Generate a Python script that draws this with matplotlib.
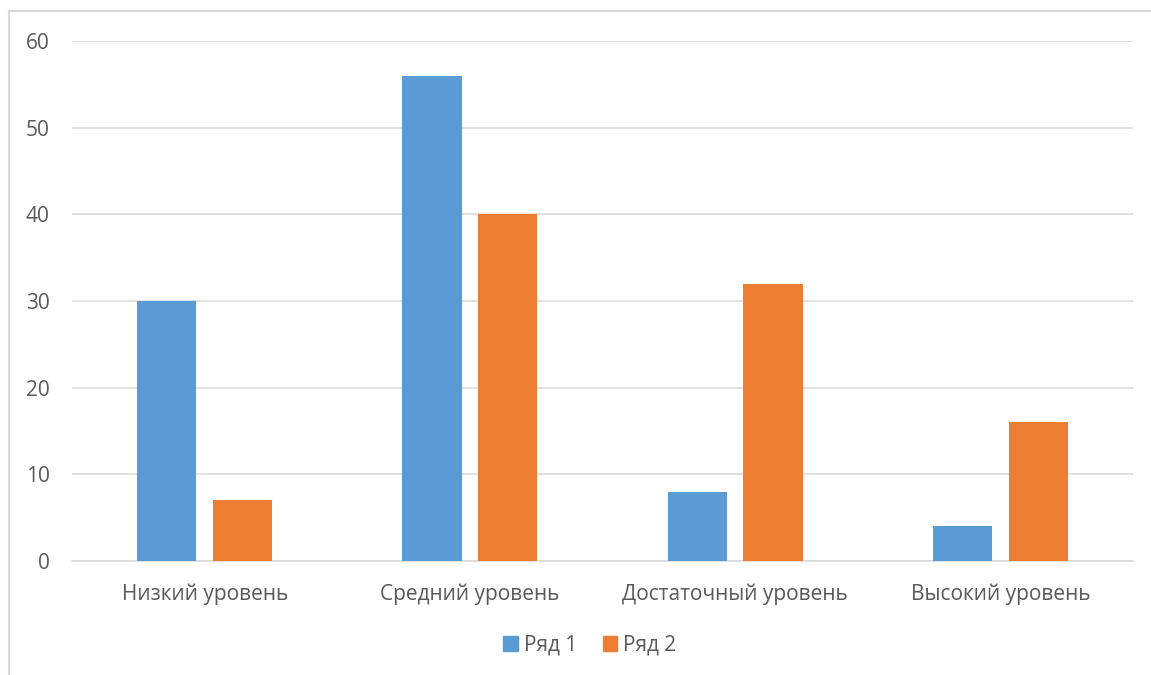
import numpy as np
import matplotlib.pyplot as plt
from matplotlib.lines import Line2D
from matplotlib.patches import Patch

categories = ['Низкий уровень', 'Средний уровень', 'Достаточный уровень', 'Высокий уровень']
series_names = ['Ряд 1', 'Ряд 2']
row1 = [30, 56, 8, 4]
row2 = [7, 40, 32, 16]
yticks = [0, 10, 20, 30, 40, 50, 60]

blue = '#5B9BD5'
orange = '#ED7D31'
text_col = '#595959'
grid_col = '#D9D9D9'

plt.rcParams['font.family'] = ['Open Sans', 'DejaVu Sans']

W, H = 1151, 675
fig = plt.figure(figsize=(W / 100, H / 100), dpi=100)
ax = fig.add_axes([72 / W, 1 - 561 / H, (1133 - 72) / W, (561 - 41) / H])

# chart border (left and top visible)
fig.add_artist(Line2D([9 / W, 9 / W], [1 - 11 / H, 0], transform=fig.transFigure,
                      color=grid_col, lw=1.5))
fig.add_artist(Line2D([9 / W, 1.01], [1 - 11 / H, 1 - 11 / H], transform=fig.transFigure,
                      color=grid_col, lw=1.5))

x = np.arange(len(categories))
width = 0.223
offset = 0.143
ax.bar(x - offset, row1, width, color=blue, zorder=3)
ax.bar(x + offset, row2, width, color=orange, zorder=3)

ax.set_xlim(-0.5, len(categories) - 0.5)
ax.set_ylim(0, 60)
ax.set_yticks(yticks)
ax.set_xticks(x)
ax.set_xticklabels(categories)
ax.yaxis.grid(True, color=grid_col, lw=1.1, zorder=0)
ax.tick_params(axis='both', length=0, labelsize=15, labelcolor=text_col)
ax.tick_params(axis='y', pad=16)
ax.tick_params(axis='x', pad=16)
for s in ['top', 'right', 'left']:
    ax.spines[s].set_visible(False)
ax.spines['bottom'].set_color(grid_col)
ax.spines['bottom'].set_linewidth(1.1)

handles = [Patch(color=blue, label=series_names[0]), Patch(color=orange, label=series_names[1])]
fig.legend(handles=handles, loc='center', bbox_to_anchor=(590 / W, 1 - 645 / H), ncol=2,
           frameon=False, fontsize=15, labelcolor=text_col, handlelength=0.7, handleheight=0.7,
           handletextpad=0.3, columnspacing=1.2)

fig.savefig('out.png', dpi=100)
